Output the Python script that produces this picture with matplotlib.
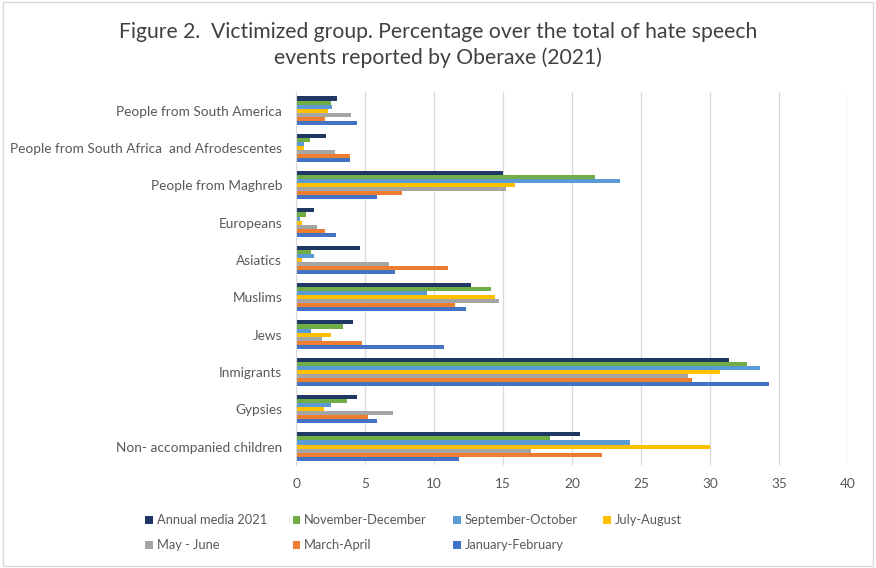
import matplotlib.pyplot as plt
import numpy as np
from matplotlib.patches import Rectangle

plt.rcParams["font.family"] = ["Lato", "DejaVu Sans"]

categories = [
    "People from South America",
    "People from South Africa  and Afrodescentes",
    "People from Maghreb",
    "Europeans",
    "Asiatics",
    "Muslims",
    "Jews",
    "Inmigrants",
    "Gypsies",
    "Non- accompanied children",
]

series_names = [
    "Annual media 2021",
    "November-December",
    "September-October",
    "July-August",
    "May - June",
    "March-April",
    "January-February",
]

annual = [3.0, 2.2, 15.0, 1.3, 4.6, 12.7, 4.1, 31.4, 4.4, 20.6]
nov_dec = [2.5, 1.0, 21.7, 0.7, 1.1, 14.1, 3.4, 32.7, 3.7, 18.4]
sep_oct = [2.6, 0.6, 23.5, 0.25, 1.3, 9.5, 1.1, 33.6, 2.5, 24.2]
jul_aug = [2.3, 0.6, 15.9, 0.4, 0.4, 14.4, 2.5, 30.7, 2.0, 30.0]
may_jun = [4.0, 2.8, 15.2, 1.5, 6.7, 14.7, 1.9, 28.4, 7.0, 17.0]
mar_apr = [2.1, 3.9, 7.7, 2.1, 11.0, 11.5, 4.8, 28.7, 5.2, 22.2]
jan_feb = [4.4, 3.9, 5.9, 2.9, 7.2, 12.3, 10.7, 34.3, 5.9, 11.8]

values = [annual, nov_dec, sep_oct, jul_aug, may_jun, mar_apr, jan_feb]
colors = ["#203864", "#70AD47", "#5B9BD5", "#FFC000", "#A5A5A5", "#ED7D31", "#4472C4"]

fig = plt.figure(figsize=(8.76, 5.68), dpi=100)
ax = fig.add_axes([0.338, 0.181, 0.63, 0.657])

y = np.arange(len(categories))
group = 0.76
bar_h = group / len(series_names)
bars = []
for i, (name, vals, col) in enumerate(zip(series_names, values, colors)):
    offset = -group / 2 + bar_h * (i + 0.5)
    b = ax.barh(y + offset, vals, height=bar_h, color=col, label=name)
    bars.append(b)

ax.set_ylim(len(categories) - 0.5, -0.5)
ax.set_xlim(0, 40)
ax.set_xticks(range(0, 41, 5))
ax.set_yticks(y)
ax.set_yticklabels(categories)
ax.tick_params(axis="both", length=0, labelsize=9.8, colors="#595959")
ax.tick_params(axis="x", pad=9)
ax.tick_params(axis="y", pad=10)
ax.grid(axis="x", color="#D9D9D9", linewidth=0.9)
ax.set_axisbelow(True)
for side in ["top", "right", "bottom"]:
    ax.spines[side].set_visible(False)
ax.spines["left"].set_color("#D9D9D9")

fig.suptitle("Figure 2.  Victimized group. Percentage over the total of hate speech\nevents reported by Oberaxe (2021)",
             x=0.5, y=0.962, fontsize=15.2, color="#404040", linespacing=1.38)

# legend filled column by column
order = [0, 4, 1, 5, 2, 6, 3]
fig.legend([bars[k] for k in order], [series_names[k] for k in order],
           loc="center", bbox_to_anchor=(0.472, 0.062), ncol=4, frameon=False,
           fontsize=9.3, labelcolor="#595959", handlelength=0.6, handleheight=0.6,
           handletextpad=0.3, columnspacing=2.0, labelspacing=1.0)

fig.patches.append(Rectangle((0.003, 0.004), 0.994, 0.992, transform=fig.transFigure,
                             fill=False, edgecolor="#D9D9D9", linewidth=1.0))

fig.savefig("out.png", dpi=100)
